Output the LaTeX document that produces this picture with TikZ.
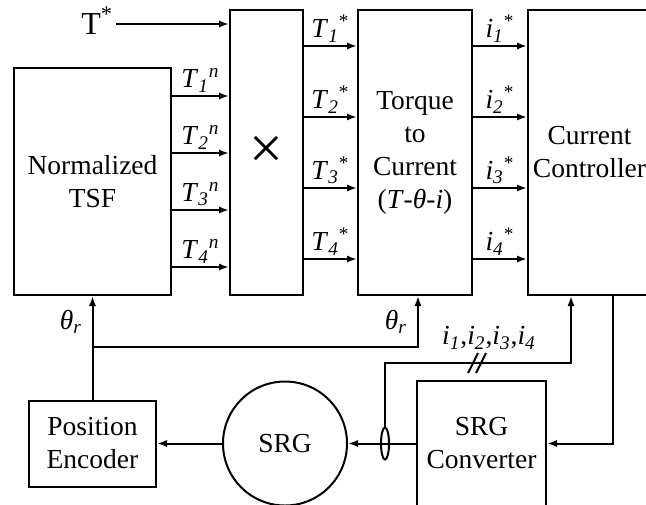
\documentclass[tikz,border=0pt]{standalone}
\usepackage{fontspec}
\setmainfont{Liberation Serif}
\usetikzlibrary{arrows.meta,shapes.geometric}

\begin{document}
\begin{tikzpicture}
  [x=0.5pt,y=-0.5pt,line width=1pt,font=\fontsize{13.75}{16.5}\selectfont,
   blk/.style={draw,align=center,inner sep=0pt},
   sig/.style={-{Latex[length=5pt,width=3.6pt]}},
   lbl/.style={above,inner sep=1.5pt}]
  \useasboundingbox (0,0) rectangle (646,504);
  \clip (0,0) rectangle (646,504);

  % Bloques de la fila superior
  \node[blk,minimum width=78.5pt,minimum height=113.5pt] (tsf) at (92.5,181.5) {Normalized\\TSF};
  \node[blk,minimum width=36.5pt,minimum height=142.5pt,font=\fontsize{30}{30}\selectfont] (mult) at (266.5,152.5) {×};
  \node[blk,minimum width=57pt,minimum height=142.5pt] (ttc) at (415,152.5) {Torque\\to\\Current\\(\textit{T}-\textit{θ}-\textit{i})};
  \node[blk,minimum width=61.5pt,minimum height=142.5pt] (cc) at (589.5,152.5) {Current\\Controller};

  % Bloques de la fila inferior
  \node[blk,minimum width=63.5pt,minimum height=43pt] (enc) at (92.5,443.5) {Position\\Encoder};
  \node[blk,circle,minimum size=62pt] (srg) at (285,443.5) {SRG};
  \node[blk,minimum width=64.5pt,minimum height=62.5pt] (conv) at (481.5,443.5) {SRG\\Converter};
  \node[draw,ellipse,minimum width=4pt,minimum height=16pt,inner sep=0pt] (ct) at (385,443.5) {};

  % Referencia de par
  \node[font=\fontsize{16}{18}\selectfont,inner sep=1pt,anchor=base east] (tref) at (116,34) {T\textsuperscript{*}};
  \draw[sig] (tref.east |- 0,24) -- (mult.west |- 0,24);

  % Salidas de la TSF normalizada
  \foreach \y/\k in {96/1,153/2,210/3,267/4}
    \draw[sig] (tsf.east |- 0,\y) -- (mult.west |- 0,\y)
      node[lbl,midway] {\textit{T}\textsubscript{\textit{\k}}\textsuperscript{\textit{n}}};

  % Referencias de par y de corriente por fase
  \foreach \y/\k in {46/1,117/2,188/3,259/4}{
    \draw[sig] (mult.east |- 0,\y) -- (ttc.west |- 0,\y)
      node[lbl,midway] {\textit{T}\textsubscript{\textit{\k}}\textsuperscript{*}};
    \draw[sig] (ttc.east |- 0,\y) -- (cc.west |- 0,\y)
      node[lbl,midway] {\textit{i}\textsubscript{\textit{\k}}\textsuperscript{*}};
  }

  % Realimentacion de posicion
  \draw[sig] (enc.north) -- (tsf.south);
  \draw[sig] (enc.north |- 0,347) -| ([xshift=1.5pt]ttc.south);
  \node (thl) at (71,322) {\textit{θ}\textsubscript{\textit{r}}};
  \node (thr) at (396,322) {\textit{θ}\textsubscript{\textit{r}}};

  % Corrientes medidas
  \draw[sig] (ct.north) -- (ct.north |- 0,363) -| ([xshift=-9.25pt]cc.south);
  \draw (468,373) -- (478,353) (476,373) -- (486,353);
  \node (imeas) at (489,338) {\textit{i}\textsubscript{\textit{1}},\textit{i}\textsubscript{\textit{2}},\textit{i}\textsubscript{\textit{3}},\textit{i}\textsubscript{\textit{4}}};

  % Lazo de potencia
  \draw[sig] ([xshift=11.75pt]cc.south) |- (conv.east);
  \draw[sig] (conv.west) -- (srg.east);
  \draw[sig] (srg.west) -- (enc.east);

\end{tikzpicture}
\end{document}
